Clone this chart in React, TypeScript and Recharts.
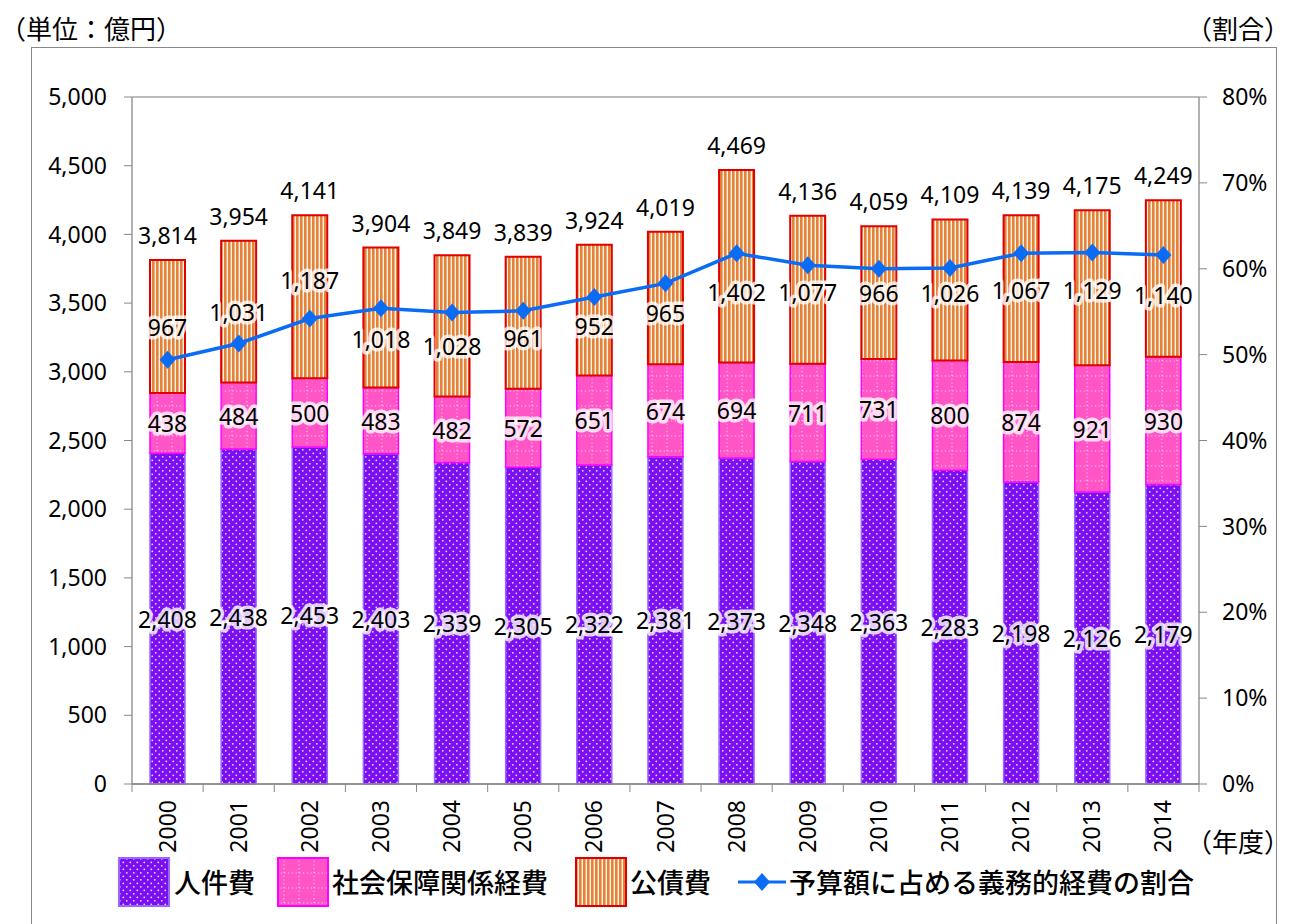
import React from "react";
import {
    ComposedChart,
    Bar,
    Line,
    XAxis,
    YAxis,
    CartesianGrid,
    LabelList,
} from "recharts";

const years = ["2000", "2001", "2002", "2003", "2004", "2005", "2006", "2007", "2008", "2009", "2010", "2011", "2012", "2013", "2014"];
const personnel = [2408, 2438, 2453, 2403, 2339, 2305, 2322, 2381, 2373, 2348, 2363, 2283, 2198, 2126, 2179];
const social = [438, 484, 500, 483, 482, 572, 651, 674, 694, 711, 731, 800, 874, 921, 930];
const debt = [967, 1031, 1187, 1018, 1028, 961, 952, 965, 1402, 1077, 966, 1026, 1067, 1129, 1140];
const totals = [3814, 3954, 4141, 3904, 3849, 3839, 3924, 4019, 4469, 4136, 4059, 4109, 4139, 4175, 4249];
const ratio = [49.4, 51.3, 54.2, 55.4, 54.9, 55.1, 56.7, 58.3, 61.8, 60.4, 60.0, 60.1, 61.8, 61.9, 61.6];

const leftTicks = [0, 500, 1000, 1500, 2000, 2500, 3000, 3500, 4000, 4500, 5000];
const rightTicks = [0, 10, 20, 30, 40, 50, 60, 70, 80];

const seriesNames = ["人件費", "社会保障関係経費", "公債費", "予算額に占める義務的経費の割合"];

// labels for 公債費 were moved by hand in the original so they clear the line
const debtLabelNudge = [0, 0, -17, 21, 20, 15, 16, 15, 26, 2, 0, 3, 1, 2, 16];

const data = years.map((year, i) => ({
    year,
    personnel: personnel[i],
    social: social[i],
    debt: debt[i],
    total: totals[i],
    ratio: ratio[i],
}));

const FONT = "'Noto Sans', 'Noto Sans CJK JP', sans-serif";
const JP = "'Noto Sans CJK JP', sans-serif";
const BLUE = "#0a6cf5";
const fmt = (v: number) => v.toLocaleString("en-US");

const PLOT_LEFT = 132;
const PLOT_RIGHT = 1199;
const PLOT_BOTTOM = 784;
const BAND = (PLOT_RIGHT - PLOT_LEFT) / years.length;

const Patterns = () => (
    <svg width={0} height={0} style={{ position: "absolute" }}>
        <defs>
            <pattern id="patPurple" width={7} height={7} patternUnits="userSpaceOnUse">
                <rect width={7} height={7} fill="#7a10f2" />
                <circle cx={1.8} cy={1.8} r={0.9} fill="#ffffff" opacity={0.85} />
                <circle cx={5.3} cy={5.3} r={0.9} fill="#ffffff" opacity={0.85} />
            </pattern>
            <pattern id="patPink" width={15} height={15} patternUnits="userSpaceOnUse">
                <rect width={15} height={15} fill="#ff55c6" />
                <line x1={0} y1={1} x2={15} y2={1} stroke="#ffffff" strokeWidth={1.1} strokeDasharray="1.1 2.6" opacity={0.7} />
                <line x1={7} y1={0} x2={7} y2={15} stroke="#ffffff" strokeWidth={1.1} strokeDasharray="1.1 2.6" opacity={0.7} />
            </pattern>
            <pattern id="patOrange" width={4} height={4} patternUnits="userSpaceOnUse">
                <rect width={4} height={4} fill="#fff3e4" />
                <rect width={2.6} height={4} fill="#e3823a" />
            </pattern>
        </defs>
    </svg>
);

const haloText = (x: number, y: number, value: number) => (
    <text
        x={x}
        y={y}
        textAnchor="middle"
        dominantBaseline="central"
        fontFamily={FONT}
        fontSize={23}
        fill="#000"
        stroke="#ffffff"
        strokeWidth={7}
        strokeLinejoin="round"
        strokeOpacity={0.8}
        paintOrder="stroke"
    >
        {fmt(value)}
    </text>
);

const HaloLabel = (props: any) => {
    const { x, y, width, height, value } = props;
    return haloText(x + width / 2, y + height / 2, value);
};

const DebtLabel = (props: any) => {
    const { x, y, width, height, value, index } = props;
    return haloText(x + width / 2, y + height / 2 + (debtLabelNudge[index] ?? 0), value);
};

const TotalLabel = (props: any) => {
    const { x, y, width, value } = props;
    return (
        <text
            x={x + width / 2}
            y={y - 25}
            textAnchor="middle"
            dominantBaseline="central"
            fontFamily={FONT}
            fontSize={23}
            fill="#000"
        >
            {fmt(value)}
        </text>
    );
};

const Diamond = (props: any) => {
    const { cx, cy } = props;
    if (cx == null || cy == null) return null;
    return <polygon points={`${cx},${cy - 9} ${cx + 8},${cy} ${cx},${cy + 9} ${cx - 8},${cy}`} fill={BLUE} />;
};

const YearTick = (props: any) => {
    const { x, y, payload, index } = props;
    return (
        <g>
            <line x1={x - BAND / 2} y1={PLOT_BOTTOM} x2={x - BAND / 2} y2={PLOT_BOTTOM + 8} stroke="#888" />
            {index === years.length - 1 && (
                <line x1={x + BAND / 2} y1={PLOT_BOTTOM} x2={x + BAND / 2} y2={PLOT_BOTTOM + 8} stroke="#888" />
            )}
            <g transform={`translate(${x},${y})`}>
                <text
                    transform="rotate(-90)"
                    x={-8}
                    y={0}
                    dy="0.35em"
                    textAnchor="end"
                    fontFamily={FONT}
                    fontSize={23}
                    fill="#000"
                >
                    {payload.value}
                </text>
            </g>
        </g>
    );
};

const Swatch = ({ left, fill, stroke }: { left: number; fill: string; stroke: string }) => (
    <svg width={52} height={50} style={{ position: "absolute", left, top: 857 }}>
        <rect x={1} y={1} width={50} height={48} fill={fill} stroke={stroke} strokeWidth={2} />
    </svg>
);

const legendText: React.CSSProperties = {
    position: "absolute",
    top: 862,
    fontFamily: JP,
    fontSize: 27,
    fontWeight: 500,
    color: "#000",
    lineHeight: "40px",
    whiteSpace: "nowrap",
};

const LegendBox = () => (
    <>
        <Swatch left={118} fill="url(#patPurple)" stroke="#9a66ff" />
        <span style={{ ...legendText, left: 174 }}>{seriesNames[0]}</span>
        <Swatch left={277} fill="url(#patPink)" stroke="#ff00ff" />
        <span style={{ ...legendText, left: 332 }}>{seriesNames[1]}</span>
        <Swatch left={575} fill="url(#patOrange)" stroke="#e00000" />
        <span style={{ ...legendText, left: 630 }}>{seriesNames[2]}</span>
        <svg width={48} height={50} style={{ position: "absolute", left: 738, top: 857 }}>
            <line x1={0} y1={25} x2={48} y2={25} stroke={BLUE} strokeWidth={3} />
            <polygon points="24,16 32,25 24,34 16,25" fill={BLUE} />
        </svg>
        <span style={{ ...legendText, left: 789 }}>{seriesNames[3]}</span>
    </>
);

const cornerText: React.CSSProperties = {
    position: "absolute",
    fontFamily: JP,
    fontSize: 26,
    color: "#000",
    lineHeight: "32px",
    whiteSpace: "nowrap",
};

export default function App() {
    return (
        <div style={{ position: "absolute", left: 0, top: 0, width: 1299, height: 924, background: "#fff", overflow: "hidden" }}>
            <Patterns />
            <div style={{ position: "absolute", left: 31, top: 47, width: 1244, height: 900, border: "1px solid #888" }} />
            <div style={{ ...cornerText, left: 0, top: 12 }}>（単位：億円）</div>
            <div style={{ ...cornerText, left: 1186, top: 12 }}>（割合）</div>
            <div style={{ ...cornerText, left: 1186, top: 825 }}>（年度）</div>
            <div style={{ position: "absolute", left: 0, top: 0 }}>
                <ComposedChart
                    width={1299}
                    height={924}
                    data={data}
                    margin={{ top: 97, right: 22, bottom: 65, left: 30 }}
                >
                    <CartesianGrid vertical={false} stroke="#a6a6a6" strokeWidth={1.3} />
                    <XAxis
                        dataKey="year"
                        tick={<YearTick />}
                        tickLine={false}
                        axisLine={{ stroke: "#888", strokeWidth: 1.3 }}
                        height={75}
                        interval={0}
                    />
                    <YAxis
                        yAxisId="left"
                        domain={[0, 5000]}
                        ticks={leftTicks}
                        width={102}
                        tickSize={8}
                        tickMargin={17}
                        tickFormatter={fmt}
                        tick={{ fontFamily: FONT, fontSize: 23, fill: "#000" }}
                        axisLine={{ stroke: "#888", strokeWidth: 1.3 }}
                        tickLine={{ stroke: "#888" }}
                        interval={0}
                    />
                    <YAxis
                        yAxisId="right"
                        orientation="right"
                        domain={[0, 80]}
                        ticks={rightTicks}
                        width={78}
                        tickSize={8}
                        tickMargin={15}
                        tickFormatter={(v: number) => `${v}%`}
                        tick={{ fontFamily: FONT, fontSize: 23, fill: "#000", textAnchor: "start" }}
                        axisLine={{ stroke: "#888", strokeWidth: 1.3 }}
                        tickLine={{ stroke: "#888" }}
                        interval={0}
                    />
                    <Bar yAxisId="left" dataKey="personnel" stackId="a" barSize={35} fill="url(#patPurple)" stroke="#9a66ff" strokeWidth={1.5} isAnimationActive={false}>
                        <LabelList dataKey="personnel" content={<HaloLabel />} />
                    </Bar>
                    <Bar yAxisId="left" dataKey="social" stackId="a" barSize={35} fill="url(#patPink)" stroke="#ff00ff" strokeWidth={1.5} isAnimationActive={false}>
                        <LabelList dataKey="social" content={<HaloLabel />} />
                    </Bar>
                    <Bar yAxisId="left" dataKey="debt" stackId="a" barSize={35} fill="url(#patOrange)" stroke="#e00000" strokeWidth={2} isAnimationActive={false}>
                        <LabelList dataKey="debt" content={<DebtLabel />} />
                        <LabelList dataKey="total" content={<TotalLabel />} />
                    </Bar>
                    <Line
                        yAxisId="right"
                        dataKey="ratio"
                        stroke={BLUE}
                        strokeWidth={3.5}
                        dot={<Diamond />}
                        activeDot={false}
                        isAnimationActive={false}
                    />
                </ComposedChart>
            </div>
            <LegendBox />
        </div>
    );
}
